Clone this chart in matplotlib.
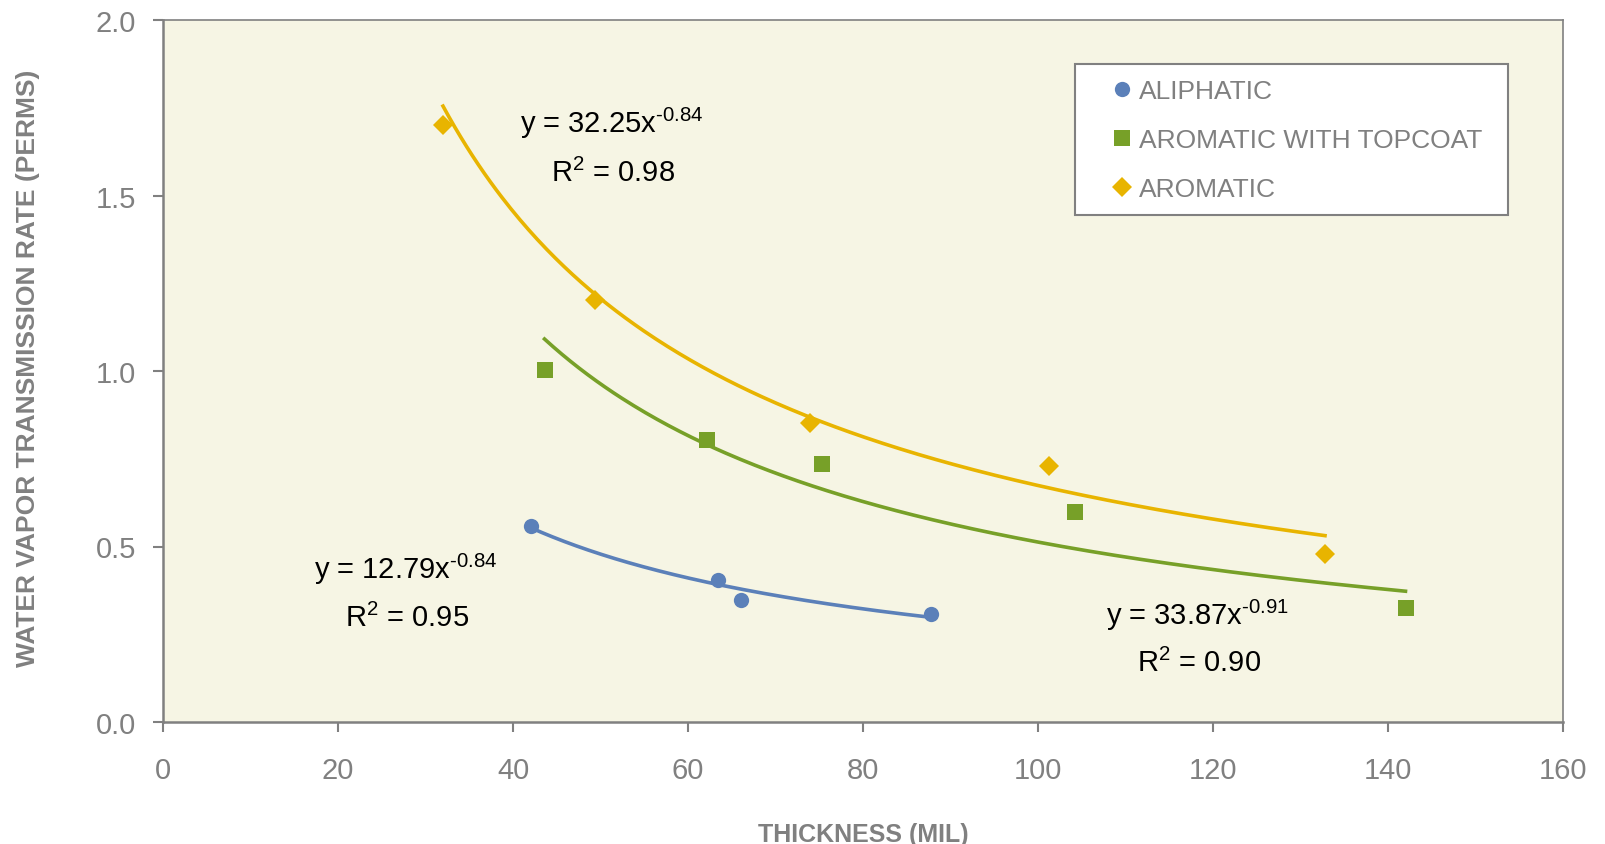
import numpy as np
import matplotlib.pyplot as plt
from matplotlib.patches import Rectangle

plt.rcParams['font.family'] = ['Liberation Sans', 'DejaVu Sans']
plt.rcParams['mathtext.fontset'] = 'custom'
plt.rcParams['mathtext.rm'] = 'Liberation Sans'
plt.rcParams['mathtext.it'] = 'Liberation Sans'
plt.rcParams['mathtext.bf'] = 'Liberation Sans:bold'

# -------------------------------------------------------
# Data
# -------------------------------------------------------

aliphatic_x = [42.0, 63.4, 66.1, 87.8]
aliphatic_y = [0.558, 0.404, 0.349, 0.308]

topcoat_x = [43.6, 62.2, 75.3, 104.2, 142.0]
topcoat_y = [1.003, 0.802, 0.735, 0.599, 0.324]

aromatic_x = [32.0, 49.4, 73.9, 101.3, 132.8]
aromatic_y = [1.70, 1.203, 0.852, 0.730, 0.478]

labels = ["ALIPHATIC", "AROMATIC WITH TOPCOAT", "AROMATIC"]

# power trend lines y = a * x^b, as printed on the chart
fit_a = [12.79, 33.87, 32.25]
fit_b = [-0.84, -0.91, -0.84]
fit_r2 = [0.95, 0.90, 0.98]

x_ticks = [0, 20, 40, 60, 80, 100, 120, 140, 160]
y_ticks = [0.0, 0.5, 1.0, 1.5, 2.0]

# -------------------------------------------------------
# Plot
# -------------------------------------------------------

grey = "#808080"
colors = ["#5B80B9", "#77A028", "#E8B400"]
markers = ["o", "s", "D"]
msizes = [11, 11.5, 10.5]

fig = plt.figure(figsize=(16.05, 8.45), dpi=100)
ax = fig.add_axes([163/1605, 1-723/845, 1400/1605, 702/845])
ax.set_facecolor("#F6F5E4")

series = [(aliphatic_x, aliphatic_y), (topcoat_x, topcoat_y), (aromatic_x, aromatic_y)]

handles = []
for i, (xs, ys) in enumerate(series):
    xf = np.linspace(min(xs), max(xs), 300)
    yf = fit_a[i] * xf ** fit_b[i]
    ax.plot(xf, yf, color=colors[i], lw=2.6, zorder=2)
    h, = ax.plot(xs, ys, linestyle="none", marker=markers[i], ms=msizes[i],
                 color=colors[i], markeredgewidth=0, zorder=3, label=labels[i])
    handles.append(h)

# equations (exponent written with a plain hyphen like the original)
eq_pos = [(27.7, 0.410, 27.9, 0.273),
          (118.2, 0.279, 118.4, 0.145),
          (51.3, 1.681, 51.4, 1.541)]
for i, (ex, ey, rx, ry) in enumerate(eq_pos):
    expo = ("%.2f" % fit_b[i]).replace("-", "\u2010")
    ax.text(ex, ey, "y = %.2fx$^{\\mathrm{%s}}$" % (fit_a[i], expo),
            fontsize=21, ha="center", va="baseline", color="black", zorder=4)
    ax.text(rx, ry, "R$^{2}$ = %.2f" % fit_r2[i],
            fontsize=21, ha="center", va="baseline", color="black", zorder=4)

ax.set_xlim(0, 160)
ax.set_ylim(0, 2.0)
ax.set_xticks(x_ticks)
ax.set_yticks(y_ticks)
ax.set_yticklabels(["%.1f" % v for v in y_ticks])

ax.tick_params(axis="both", direction="out", length=7.2, width=1.5,
               color=grey, labelcolor=grey, labelsize=21, pad=12)
ax.tick_params(axis="x", pad=17)

for s in ["left", "bottom"]:
    ax.spines[s].set_color(grey)
    ax.spines[s].set_linewidth(1.8)
for s in ["top", "right"]:
    ax.spines[s].set_color(grey)
    ax.spines[s].set_linewidth(1.2)

ax.set_xlabel("THICKNESS (MIL)", fontsize=18, fontweight="bold", color=grey)
ax.set_ylabel("WATER VAPOR TRANSMISSION RATE (PERMS)", fontsize=19,
              fontweight="bold", color=grey)
ax.xaxis.set_label_coords(0.5, -0.142)
ax.yaxis.set_label_coords(-0.088, 0.505)

# legend box
box = Rectangle(((1075-163)/1400, (723-216)/702), 433/1400, 151/702,
                transform=ax.transAxes, facecolor="white", edgecolor=grey,
                lw=1.5, zorder=5)
ax.add_patch(box)

leg = ax.legend(handles=handles, loc="upper left",
                bbox_to_anchor=((1109-163)/1400, (723-80)/702),
                frameon=False, fontsize=19, borderpad=0, borderaxespad=0,
                handlelength=1.0, handletextpad=0.15, labelspacing=0.95,
                numpoints=1)
leg.set_zorder(6)
for t in leg.get_texts():
    t.set_color(grey)

fig.savefig("out.png", dpi=100)
